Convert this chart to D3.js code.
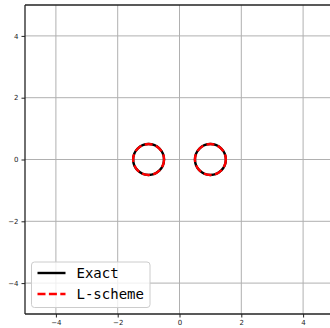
<!DOCTYPE html>
<html>
<head>
<meta charset="utf-8">
<script src="https://cdn.jsdelivr.net/npm/d3@7"></script>
<style>
  html, body { margin: 0; padding: 0; background: #fff; }
  svg { display: block; }
</style>
</head>
<body>
<svg id="chart" width="330" height="328"></svg>
<script>
// Two unit-sized circles: exact solution vs. L-scheme approximation
const xTicks = [-4, -2, 0, 2, 4];
const yTicks = [-4, -2, 0, 2, 4];
const circleCenterX = [-1, 1];
const circleCenterY = [0, 0];
const circleRadius = [0.5, 0.5];
const seriesNames = ["Exact", "L-scheme"];
const seriesColors = ["#000000", "#ff0000"];

const svg = d3.select("#chart");
const W = 330, H = 328;
const x = d3.scaleLinear().domain([-5, 5]).range([25, 334]);
const y = d3.scaleLinear().domain([-5, 5]).range([314, 5]);

const plot = svg.append("g");

// grid
plot.append("g").selectAll("line").data(xTicks).join("line")
  .attr("x1", d => x(d)).attr("x2", d => x(d))
  .attr("y1", y(5)).attr("y2", y(-5))
  .attr("stroke", "#b0b0b0").attr("stroke-width", 1);
plot.append("g").selectAll("line").data(yTicks).join("line")
  .attr("x1", x(-5)).attr("x2", x(5))
  .attr("y1", d => y(d)).attr("y2", d => y(d))
  .attr("stroke", "#b0b0b0").attr("stroke-width", 1);

// circles for each series (exact underneath, dashed scheme on top)
const circles = circleCenterX.map((cx, i) => ({cx, cy: circleCenterY[i], r: circleRadius[i]}));
seriesNames.forEach((name, s) => {
  plot.append("g").selectAll("ellipse").data(circles).join("ellipse")
    .attr("cx", d => x(d.cx))
    .attr("cy", d => y(d.cy))
    .attr("rx", d => x(d.cx + d.r) - x(d.cx))
    .attr("ry", d => y(d.cy) - y(d.cy + d.r))
    .attr("fill", "none")
    .attr("stroke", seriesColors[s])
    .attr("stroke-width", 2.4)
    .attr("stroke-dasharray", s === 1 ? "8,3.4" : null);
});

// axes
const fmt = d => (d < 0 ? "\u2212" + Math.abs(d) : String(d));
const xAxis = d3.axisBottom(x).tickValues(xTicks).tickFormat(fmt).tickSize(3.5).tickPadding(3);
const yAxis = d3.axisLeft(y).tickValues(yTicks).tickFormat(fmt).tickSize(3.5).tickPadding(3);

const gx = svg.append("g").attr("transform", `translate(0,${y(-5)})`).call(xAxis);
const gy = svg.append("g").attr("transform", `translate(${x(-5)},0)`).call(yAxis);
[gx, gy].forEach(g => {
  g.select(".domain").remove();
  g.selectAll(".tick line").attr("stroke", "#222").attr("stroke-width", 1);
  g.selectAll(".tick text").attr("fill", "#222")
    .style("font-family", "DejaVu Sans").style("font-size", "7px");
});

// spines
const spine = svg.append("g").attr("fill", "none").attr("stroke", "#222").attr("stroke-width", 1.3);
spine.append("line").attr("x1", x(-5)).attr("x2", x(-5)).attr("y1", y(5)).attr("y2", y(-5));
spine.append("line").attr("x1", x(-5)).attr("x2", x(5)).attr("y1", y(-5)).attr("y2", y(-5));
spine.append("line").attr("x1", x(-5)).attr("x2", x(5)).attr("y1", y(5)).attr("y2", y(5));
spine.append("line").attr("x1", x(5)).attr("x2", x(5)).attr("y1", y(5)).attr("y2", y(-5));

// legend
const lg = svg.append("g");
lg.append("rect")
  .attr("x", 31.5).attr("y", 262).attr("width", 118.5).attr("height", 45.5)
  .attr("rx", 3).attr("ry", 3)
  .attr("fill", "#fff").attr("fill-opacity", 0.8)
  .attr("stroke", "#cccccc").attr("stroke-width", 1);
seriesNames.forEach((name, i) => {
  const ly = 273 + i * 21;
  lg.append("line")
    .attr("x1", 37.5).attr("x2", 65.5).attr("y1", ly).attr("y2", ly)
    .attr("stroke", seriesColors[i]).attr("stroke-width", 2.4)
    .attr("stroke-dasharray", i === 1 ? "8,3.4" : null);
  lg.append("text")
    .attr("x", 76.5).attr("y", ly).attr("dy", "0.36em")
    .attr("fill", "#000")
    .style("font-family", "DejaVu Sans Mono").style("font-size", "14px")
    .text(name);
});
</script>
</body>
</html>
